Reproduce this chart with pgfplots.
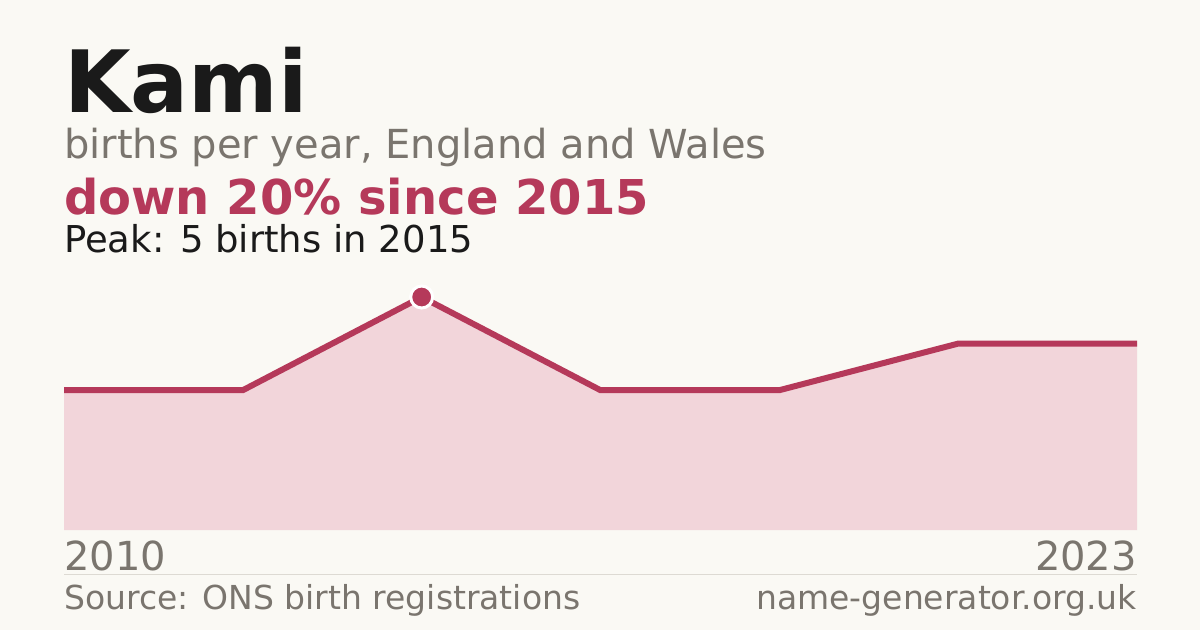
\documentclass[border=0pt]{standalone}
\usepackage{fontspec}
\setmainfont{DejaVu Sans}
\usepackage{pgfplots}
\pgfplotsset{compat=1.18}
\definecolor{bg}{HTML}{FAF9F4}
\definecolor{ink}{HTML}{1A1A1A}
\definecolor{muted}{HTML}{7A756E}
\definecolor{accent}{HTML}{B5395A}
\definecolor{softfill}{HTML}{F2D5DA}
\definecolor{rule}{HTML}{DDDAD3}
\begin{document}
\begin{tikzpicture}[x=1pt,y=1pt]
\fill[bg] (0,0) rectangle (1200,630);
% headings
\node[anchor=base west,inner sep=0,text=ink] at (64,517)
  {\fontsize{86}{86}\selectfont\bfseries Kami};
\node[anchor=base west,inner sep=0,text=muted] at (64,471)
  {\fontsize{40}{40}\selectfont births per year, England and Wales};
\node[anchor=base west,inner sep=0,text=accent] at (64,415)
  {\fontsize{48}{48}\selectfont\bfseries down 20\% since 2015};
\node[anchor=base west,inner sep=0,text=ink] at (64,377)
  {\fontsize{37}{37}\selectfont Peak: 5 births in 2015};
\begin{axis}[
  at={(64pt,100pt)}, anchor=south west,
  scale only axis, width=1073pt, height=233pt,
  xmin=0, xmax=6, ymin=0, ymax=5,
  axis lines=none, clip=false,
]
\addplot[fill=softfill, draw=none] coordinates {
  (0,3) (1,3) (2,5) (3,3) (4,3) (5,4) (6,4) } \closedcycle;
\addplot[accent, line width=6pt] coordinates {
  (0,3) (1,3) (2,5) (3,3) (4,3) (5,4) (6,4) };
\addplot[only marks, mark=*, mark size=11pt,
  mark options={fill=accent, draw=white, line width=3pt}]
  coordinates { (2,5) };
\end{axis}
% x labels and footer
\node[anchor=base west,inner sep=0,text=muted] at (64,60)
  {\fontsize{40}{40}\selectfont 2010};
\node[anchor=base east,inner sep=0,text=muted] at (1137,60)
  {\fontsize{40}{40}\selectfont 2023};
\draw[rule, line width=1pt] (64,56) -- (1137,56);
\node[anchor=base west,inner sep=0,text=muted] at (64,21)
  {\fontsize{33}{33}\selectfont Source: ONS birth registrations};
\node[anchor=base east,inner sep=0,text=muted] at (1137,21)
  {\fontsize{33}{33}\selectfont name-generator.org.uk};
\end{tikzpicture}
\end{document}
